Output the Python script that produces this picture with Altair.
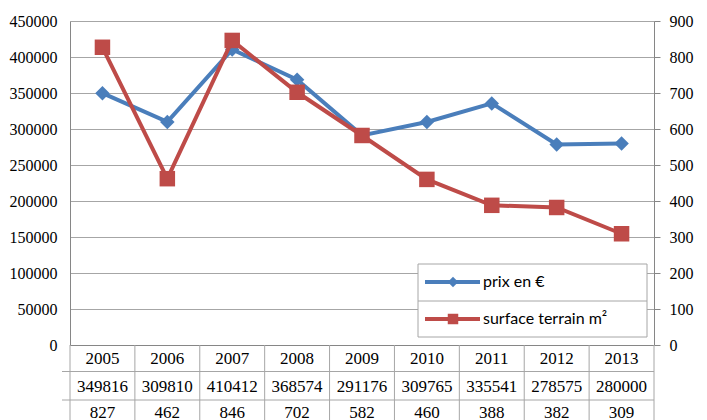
import altair as alt
import pandas as pd

years = ["2005", "2006", "2007", "2008", "2009", "2010", "2011", "2012", "2013"]
prix = [349816, 309810, 410412, 368574, 291176, 309765, 335541, 278575, 280000]
surface = [827, 462, 846, 702, 582, 460, 388, 382, 309]
series_names = ["prix en €", "surface terrain m²"]
series_colors = ["#4A7EBB", "#BE4B48"]
left_ticks = list(range(0, 450001, 50000))
right_ticks = list(range(0, 901, 100))

df = pd.DataFrame({"year": years, "prix": prix, "surface": surface})
legend_df = pd.DataFrame({"series": series_names})
one_df = pd.DataFrame({"k": [0]})

W, H = 584, 324
BAND = W / len(years)
FONT = "Liberation Serif"
AXFS = 16
TFS = 17
GRID = "#A6A6A6"
AXISC = "#868686"

xenc = alt.X(
    "year:N", sort=years,
    scale=alt.Scale(paddingInner=0, paddingOuter=0),
    axis=alt.Axis(title=None, labels=False, ticks=False, grid=False,
                  domainColor=AXISC, domainWidth=1),
)

blue = alt.Chart(df).mark_line(
    color=series_colors[0], strokeWidth=4,
    point=alt.OverlayMarkDef(shape="diamond", size=210, filled=True,
                             color=series_colors[0], opacity=1),
).encode(
    x=xenc,
    y=alt.Y("prix:Q", scale=alt.Scale(domain=[0, 450000], nice=False),
            axis=alt.Axis(orient="left", values=left_ticks, format="d", title=None,
                          grid=True, gridColor=GRID, gridWidth=1, tickSize=0,
                          labelPadding=13, domainColor=AXISC, labelFont=FONT,
                          labelFontSize=AXFS, labelColor="black")),
)

red = alt.Chart(df).mark_line(
    color=series_colors[1], strokeWidth=4,
    point=alt.OverlayMarkDef(shape="square", size=240, filled=True,
                             color=series_colors[1], opacity=1),
).encode(
    x=xenc,
    y=alt.Y("surface:Q", scale=alt.Scale(domain=[0, 900], nice=False),
            axis=alt.Axis(orient="right", values=right_ticks, format="d", title=None,
                          grid=False, tickSize=6, tickColor=AXISC, labelPadding=9,
                          domainColor=AXISC, labelFont=FONT, labelFontSize=AXFS,
                          labelColor="black")),
)

# legend (drawn as a small box with two rows)
box = alt.Chart(one_df).mark_rect(fill="white", stroke=GRID, strokeWidth=1).encode(
    x=alt.value(348), x2=alt.value(577), y=alt.value(243), y2=alt.value(316)
)
divider = alt.Chart(one_df).mark_rule(color=GRID, strokeWidth=1).encode(
    x=alt.value(348), x2=alt.value(577), y=alt.value(280)
)
ly = alt.Y("series:N", scale=alt.Scale(type="point", domain=series_names, range=[261, 298], padding=0), axis=None)
lcolor = alt.Color("series:N", scale=alt.Scale(domain=series_names, range=series_colors), legend=None)
leg_lines = alt.Chart(legend_df).mark_rule(strokeWidth=4).encode(
    x=alt.value(355), x2=alt.value(410), y=ly, color=lcolor
)
leg_pts = alt.Chart(legend_df).mark_point(filled=True, opacity=1, size=110).encode(
    x=alt.value(383), y=ly, color=lcolor,
    shape=alt.Shape("series:N", scale=alt.Scale(domain=series_names, range=["diamond", "square"]), legend=None),
)
leg_txt = alt.Chart(legend_df).mark_text(font="Lato", fontSize=16, color="black",
                                          align="left", baseline="middle").encode(
    x=alt.value(413), y=ly, text="series:N"
)
legend_layer = alt.layer(leg_lines, leg_pts, leg_txt)

def hline(ypos):
    return alt.Chart(one_df).mark_rule(color=GRID, strokeWidth=1).encode(
        x=alt.value(-8), x2=alt.value(W), y=alt.value(ypos)
    )

vlines = alt.Chart(df).mark_rule(color=GRID, strokeWidth=1, xOffset=-BAND / 2).encode(
    x=xenc, y=alt.value(H), y2=alt.value(H + 110)
)
right_border = alt.Chart(one_df).mark_rule(color=GRID, strokeWidth=1).encode(
    x=alt.value(W), y=alt.value(H), y2=alt.value(H + 110)
)

def text_row(field, ypos, fmt=None):
    t = alt.Text(field, format=fmt) if fmt else alt.Text(field)
    return alt.Chart(df).mark_text(font=FONT, fontSize=TFS, color="black",
                                   baseline="middle", align="center").encode(
        x=xenc, y=alt.value(ypos), text=t
    )

chart = alt.layer(
    box, divider, blue, red, legend_layer,
    hline(350.5), hline(379), vlines, right_border,
    text_row("year:N", 338), text_row("prix:Q", 366, "d"), text_row("surface:Q", 392, "d"),
).resolve_scale(y="independent").properties(
    width=W, height=H,
    padding={"left": 62, "top": 13, "right": 45, "bottom": 90},
    autosize=alt.AutoSizeParams(type="none"),
).configure_view(stroke=None).configure(background="white")

chart.save("out.html", embed_options={"renderer": "svg", "actions": False})
